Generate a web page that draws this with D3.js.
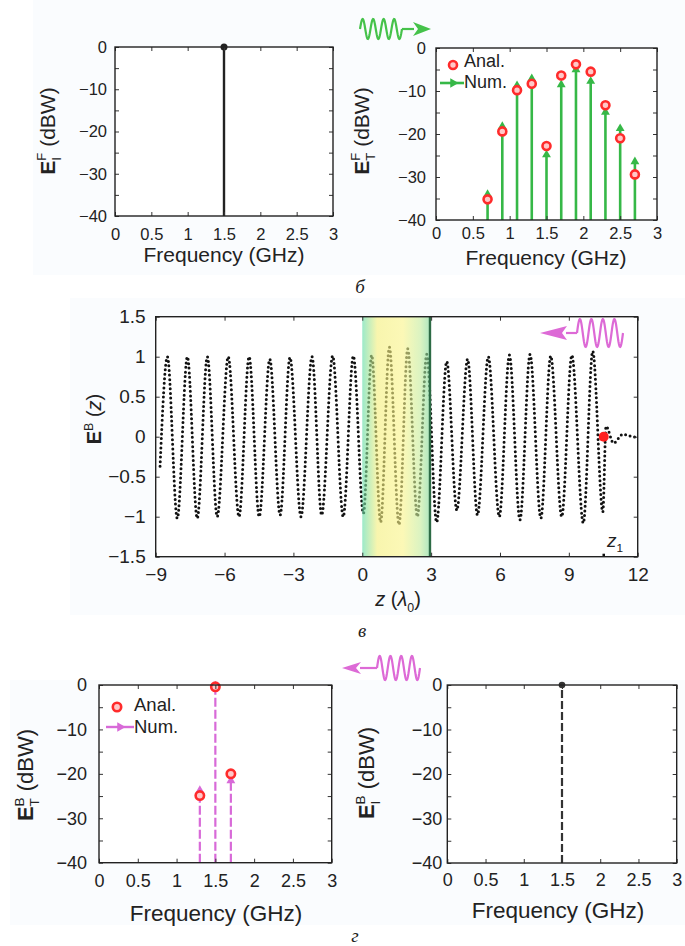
<!DOCTYPE html>
<html>
<head>
<meta charset="utf-8">
<script src="https://cdn.jsdelivr.net/npm/d3@7"></script>
<style>
body { margin: 0; background: #fff; }
svg { display: block; font-family: "Liberation Sans", Arial, sans-serif; }
svg text { white-space: pre; }
.axis path { display: none; }
.axis line { stroke: #333; stroke-width: 1; }
.axis text { fill: #222; }
</style>
</head>
<body>
<svg id="chart" width="685" height="946"></svg>
<script>
// ---- data ----
const freqTicks = [0, 0.5, 1, 1.5, 2, 2.5, 3];
const dbTicks = [0, -5, -10, -15, -20, -25, -30, -35, -40];

// incident forward spectrum
const incFwdFreq = [1.5];
const incFwdLevel = [0];

// transmitted forward spectrum
const trFreq = [0.7, 0.9, 1.1, 1.3, 1.5, 1.7, 1.9, 2.1, 2.3, 2.5, 2.7];
const trAnal = [-35.2, -19.4, -9.8, -8.3, -22.8, -6.4, -3.8, -5.5, -13.3, -21, -29.4];
const trNum = [-33.8, -18, -8.5, -6.9, -24.6, -8.3, -4.8, -7.5, -14.7, -18.5, -26.2];

// backward field along z (extrema)
const fieldZ = [-8.81, -8.49, -8.06, -7.62, -7.19, -6.75, -6.32, -5.84, -5.37, -4.93, -4.49,
  -4.03, -3.58, -3.15, -2.67, -2.19, -1.77, -1.29, -0.83, -0.39, 0.05, 0.41, 0.80, 1.18,
  1.60, 1.98, 2.40, 2.81, 3.24, 3.68, 4.12, 4.59, 5.02, 5.49, 5.97, 6.41, 6.87, 7.31, 7.78,
  8.21, 8.69, 9.13, 9.63, 10.04, 10.48, 10.62, 10.95, 11.35, 11.65, 12.0];
const fieldE = [-0.37, 1.0, -1.02, 1.0, -1.02, 1.0, -1.0, 1.0, -1.0, 1.0, -1.0,
  0.97, -0.98, 0.99, -1.0, 1.0, -0.98, 1.01, -1.0, 1.01, -0.96, 1.02, -1.07, 1.12,
  -1.10, 1.10, -1.0, 1.03, -1.07, 0.94, -0.92, 0.97, -0.98, 1.0, -1.0, 1.02, -1.04, 1.03, -1.02,
  1.01, -1.0, 1.02, -1.08, 1.07, -0.94, 0.13, -0.08, 0.03, 0.01, -0.01];
const slabZ = [0, 2.95];
const z1 = [10.52];
const zTicks = [-9, -6, -3, 0, 3, 6, 9, 12];
const eTicks = [1.5, 1, 0.5, 0, -0.5, -1, -1.5];

// reflected backward spectrum
const rfFreq = [1.3, 1.5, 1.7];
const rfAnal = [-24.9, -0.4, -20];
const rfNum = [-23.5, 0, -21.3];

// incident backward spectrum
const incBwdFreq = [1.5];
const incBwdLevel = [0];

const green = "#36b847", red = "#ff2b2b", pink = "#d86ad8";

const svg = d3.select("#chart");
const fmt = d3.format("~g");

// faint figure backgrounds
svg.append("rect").attr("x", 33).attr("y", 0).attr("width", 652).attr("height", 275).attr("fill", "#fafcfe");
svg.append("rect").attr("x", 70).attr("y", 298).attr("width", 615).attr("height", 317).attr("fill", "#fafcfe");
svg.append("rect").attr("x", 10).attr("y", 680).attr("width", 675).attr("height", 245).attr("fill", "#fafcfe");

function panel(box, xDom, yDom) {
    const x = d3.scaleLinear().domain(xDom).range([box.left, box.right]);
    const y = d3.scaleLinear().domain(yDom).range([box.bottom, box.top]);
    svg.append("rect")
        .attr("x", box.left).attr("y", box.top)
        .attr("width", box.right - box.left).attr("height", box.bottom - box.top)
        .attr("fill", "#fff");
    return { x, y, box, g: svg.append("g") };
}

function frame(p, o) {
    const b = p.box;
    const labX = o.xLab || (d => fmt(d));
    const labY = o.yLab || (d => fmt(d));
    const bottom = svg.append("g").attr("class", "axis")
        .attr("transform", `translate(0,${b.bottom})`)
        .call(d3.axisBottom(p.x).tickValues(o.xTicks).tickSize(-4).tickPadding(o.xPad).tickFormat(labX));
    bottom.selectAll("text").attr("font-size", o.fs);
    svg.append("g").attr("class", "axis")
        .attr("transform", `translate(0,${b.top})`)
        .call(d3.axisTop(p.x).tickValues(o.xTicks).tickSize(-4).tickFormat(""));
    const left = svg.append("g").attr("class", "axis")
        .attr("transform", `translate(${b.left},0)`)
        .call(d3.axisLeft(p.y).tickValues(o.yTicks).tickSize(-4).tickPadding(o.yPad).tickFormat(labY));
    left.selectAll("text").attr("font-size", o.fs);
    svg.append("g").attr("class", "axis")
        .attr("transform", `translate(${b.right},0)`)
        .call(d3.axisRight(p.y).tickValues(o.yTicks).tickSize(-4).tickFormat(""));
    svg.append("rect")
        .attr("x", b.left).attr("y", b.top)
        .attr("width", b.right - b.left).attr("height", b.bottom - b.top)
        .attr("fill", "none").attr("stroke", "#222").attr("stroke-width", 1.4);
}

// text made of pieces (bold / italic / sup / sub), centred on 0
function rich(parent, pieces, size) {
    const g = parent.append("g");
    let cx = 0, prevX = 0;
    pieces.forEach(pc => {
        const fs = pc.s ? size * 0.62 : size;
        const dy = pc.s === "sup" ? -size * 0.42 : pc.s === "sub" ? size * 0.28 : 0;
        const x0 = pc.stack ? prevX : cx;
        const t = g.append("text").attr("x", x0).attr("y", dy)
            .attr("font-size", fs).attr("fill", "#222")
            .attr("font-weight", pc.b ? "bold" : "normal")
            .attr("font-style", pc.i ? "italic" : "normal")
            .text(pc.t);
        const w = t.node().getComputedTextLength();
        prevX = x0;
        cx = Math.max(cx, x0 + w);
    });
    g.attr("transform", `translate(${-cx / 2},0)`);
    return g;
}

function yTitle(bx, cy, pieces, size) {
    const g = svg.append("g").attr("transform", `translate(${bx},${cy}) rotate(-90)`);
    rich(g, pieces, size);
}

function xTitle(cx, by, text, size) {
    svg.append("text").attr("x", cx).attr("y", by).attr("text-anchor", "middle")
        .attr("font-size", size).attr("fill", "#222").text(text);
}

const dbLab = d => (d % 10 === 0 ? fmt(d) : "");

// ---- panel 1: incident forward ----
const p1 = panel({ left: 115, right: 333, top: 47, bottom: 216 }, [0, 3], [-40, 0]);
p1.g.selectAll("line.stem").data(incFwdFreq).join("line")
    .attr("x1", d => p1.x(d)).attr("x2", d => p1.x(d))
    .attr("y1", p1.y(-40)).attr("y2", (d, i) => p1.y(incFwdLevel[i]))
    .attr("stroke", "#222").attr("stroke-width", 2.4);
p1.g.selectAll("circle").data(incFwdFreq).join("circle")
    .attr("cx", d => p1.x(d)).attr("cy", (d, i) => p1.y(incFwdLevel[i]))
    .attr("r", 3.5).attr("fill", "#222");
frame(p1, { xTicks: freqTicks, yTicks: dbTicks, yLab: dbLab, fs: 16.5, xPad: 12, yPad: 8 });
xTitle(224, 262, "Frequency (GHz)", 21);
yTitle(55, 131, [{ t: "E", b: true }, { t: "F", s: "sup" }, { t: "I", s: "sub", stack: true }, { t: " (dBW)" }], 21);

// ---- panel 2: transmitted forward ----
const p2 = panel({ left: 436, right: 657, top: 48, bottom: 220 }, [0, 3], [-40, 0]);
p2.g.selectAll("line").data(trFreq).join("line")
    .attr("x1", d => p2.x(d)).attr("x2", d => p2.x(d))
    .attr("y1", p2.y(-40)).attr("y2", (d, i) => p2.y(trNum[i]))
    .attr("stroke", green).attr("stroke-width", 2.6);
p2.g.selectAll("path.num").data(trFreq).join("path").attr("class", "num")
    .attr("d", d3.symbol(d3.symbolTriangle, 34))
    .attr("transform", (d, i) => `translate(${p2.x(d)},${p2.y(trNum[i]) + 1})`)
    .attr("fill", green);
p2.g.selectAll("circle").data(trFreq).join("circle")
    .attr("cx", d => p2.x(d)).attr("cy", (d, i) => p2.y(trAnal[i]))
    .attr("r", 4).attr("fill", "#ffc8c8").attr("stroke", red).attr("stroke-width", 2.6);
frame(p2, { xTicks: freqTicks, yTicks: dbTicks, yLab: dbLab, fs: 16.5, xPad: 7, yPad: 10 });
xTitle(546, 265, "Frequency (GHz)", 21);
yTitle(369, 131, [{ t: "E", b: true }, { t: "F", s: "sup" }, { t: "T", s: "sub", stack: true }, { t: " (dBW)" }], 21);
// legend
svg.append("circle").attr("cx", 453).attr("cy", 65).attr("r", 4)
    .attr("fill", "#ffc8c8").attr("stroke", red).attr("stroke-width", 2.6);
svg.append("text").attr("x", 464).attr("y", 67).attr("font-size", 18).attr("fill", "#222").text("Anal.");
svg.append("line").attr("x1", 440).attr("x2", 464).attr("y1", 83).attr("y2", 83)
    .attr("stroke", green).attr("stroke-width", 2.6);
svg.append("path").attr("d", d3.symbol(d3.symbolTriangle, 40))
    .attr("transform", "translate(453,83) rotate(90)").attr("fill", green);
svg.append("text").attr("x", 464).attr("y", 88).attr("font-size", 18).attr("fill", "#222").text("Num.");

// ---- panel 3: backward field along z ----
const p3 = panel({ left: 155.7, right: 637.7, top: 316.7, bottom: 556.7 }, [-9, 12], [-1.5, 1.5]);
const defs = svg.append("defs");
const grad = defs.append("linearGradient").attr("id", "slab").attr("x1", 0).attr("x2", 1).attr("y1", 0).attr("y2", 0);
[[0, "#5fdca8"], [0.22, "#f4ef7c"], [0.6, "#faf48a"], [0.86, "#c4ec9c"], [1, "#7fd89a"]].forEach(s => {
    grad.append("stop").attr("offset", s[0]).attr("stop-color", s[1]);
});
const fieldPts = fieldZ.map((z, i) => [z, fieldE[i]]);
const waveLine = d3.line().x(d => p3.x(d[0])).y(d => p3.y(d[1])).curve(d3.curveMonotoneX);
p3.g.append("path").datum(fieldPts).attr("d", waveLine)
    .attr("fill", "none").attr("stroke", "#111").attr("stroke-width", 3)
    .attr("stroke-linecap", "round").attr("stroke-dasharray", "0 4.6");
p3.g.append("rect")
    .attr("x", p3.x(slabZ[0])).attr("y", p3.box.top)
    .attr("width", p3.x(slabZ[1]) - p3.x(slabZ[0])).attr("height", p3.box.bottom - p3.box.top)
    .attr("fill", "url(#slab)").attr("opacity", 0.62);
p3.g.append("line")
    .attr("x1", p3.x(slabZ[1])).attr("x2", p3.x(slabZ[1]))
    .attr("y1", p3.box.top).attr("y2", p3.box.bottom)
    .attr("stroke", "#2d6b45").attr("stroke-width", 2.4);
p3.g.selectAll("circle").data(z1).join("circle")
    .attr("cx", d => p3.x(d)).attr("cy", p3.y(0)).attr("r", 5).attr("fill", "#ff2020");
p3.g.selectAll("line.z1").data(z1).join("line").attr("class", "z1")
    .attr("x1", d => p3.x(d)).attr("x2", d => p3.x(d))
    .attr("y1", p3.box.bottom - 3).attr("y2", p3.box.bottom)
    .attr("stroke", "#111").attr("stroke-width", 2.5);
frame(p3, { xTicks: zTicks, yTicks: eTicks, fs: 19, xPad: 11, yPad: 10 });
const z1Lab = svg.append("g").attr("transform", "translate(615,547)");
rich(z1Lab, [{ t: "z", i: true }, { t: "1", s: "sub" }], 19);
const zLab = svg.append("g").attr("transform", "translate(398,606)");
rich(zLab, [{ t: "z", i: true }, { t: " (" }, { t: "λ", i: true }, { t: "0", s: "sub" }, { t: ")" }], 20);
yTitle(101, 419, [{ t: "E", b: true }, { t: "B", s: "sup" }, { t: " (" }, { t: "z", i: true }, { t: ")" }], 20);

// ---- panel 4: reflected backward ----
const p4 = panel({ left: 99, right: 331.7, top: 685, bottom: 862.7 }, [0, 3], [-40, 0]);
p4.g.selectAll("line").data(rfFreq).join("line")
    .attr("x1", d => p4.x(d)).attr("x2", d => p4.x(d))
    .attr("y1", p4.y(-40)).attr("y2", (d, i) => p4.y(rfNum[i]))
    .attr("stroke", pink).attr("stroke-width", 2.2).attr("stroke-dasharray", "9 3");
p4.g.selectAll("path.num").data(rfFreq).join("path").attr("class", "num")
    .attr("d", d3.symbol(d3.symbolTriangle, 34))
    .attr("transform", (d, i) => `translate(${p4.x(d)},${p4.y(rfNum[i]) + 1})`)
    .attr("fill", pink);
p4.g.selectAll("circle").data(rfFreq).join("circle")
    .attr("cx", d => p4.x(d)).attr("cy", (d, i) => p4.y(rfAnal[i]))
    .attr("r", 4.2).attr("fill", "#ffc8c8").attr("stroke", red).attr("stroke-width", 2.6);
frame(p4, { xTicks: freqTicks, yTicks: dbTicks, yLab: dbLab, fs: 18, xPad: 12, yPad: 12 });
xTitle(216, 921, "Frequency (GHz)", 22.5);
yTitle(33, 775, [{ t: "E", b: true }, { t: "B", s: "sup" }, { t: "T", s: "sub", stack: true }, { t: " (dBW)" }], 22);
svg.append("circle").attr("cx", 117).attr("cy", 707).attr("r", 4.2)
    .attr("fill", "#ffc8c8").attr("stroke", red).attr("stroke-width", 2.6);
svg.append("text").attr("x", 134).attr("y", 711).attr("font-size", 18.5).attr("fill", "#222").text("Anal.");
svg.append("line").attr("x1", 106).attr("x2", 134).attr("y1", 727).attr("y2", 727)
    .attr("stroke", pink).attr("stroke-width", 2.4);
svg.append("path").attr("d", d3.symbol(d3.symbolTriangle, 40))
    .attr("transform", "translate(120,727) rotate(90)").attr("fill", pink);
svg.append("text").attr("x", 134).attr("y", 733).attr("font-size", 18.5).attr("fill", "#222").text("Num.");

// ---- panel 5: incident backward ----
const p5 = panel({ left: 447.3, right: 676.7, top: 685, bottom: 863 }, [0, 3], [-40, 0]);
p5.g.selectAll("line").data(incBwdFreq).join("line")
    .attr("x1", d => p5.x(d)).attr("x2", d => p5.x(d))
    .attr("y1", p5.y(-40)).attr("y2", (d, i) => p5.y(incBwdLevel[i]))
    .attr("stroke", "#333").attr("stroke-width", 2.2).attr("stroke-dasharray", "8 3");
p5.g.selectAll("circle").data(incBwdFreq).join("circle")
    .attr("cx", d => p5.x(d)).attr("cy", (d, i) => p5.y(incBwdLevel[i]))
    .attr("r", 3.3).attr("fill", "#333");
frame(p5, { xTicks: freqTicks, yTicks: dbTicks, yLab: dbLab, fs: 18, xPad: 10, yPad: 5 });
xTitle(558, 918, "Frequency (GHz)", 22.5);
yTitle(374, 773, [{ t: "E", b: true }, { t: "B", s: "sup" }, { t: "I", s: "sub", stack: true }, { t: " (dBW)" }], 22);

// ---- wave icons ----
function waveIcon(x0, x1, cy, amp, color, tipX, headBack, headH) {
    const ph = d3.range(0, 1.0001, 0.01);
    const sx = d3.scaleLinear().domain([0, 1]).range([x0, x1]);
    const line = d3.line().x(t => sx(t)).y(t => cy - amp * Math.sin(t * 4 * 2 * Math.PI));
    svg.append("path").attr("d", line(ph)).attr("fill", "none")
        .attr("stroke", color).attr("stroke-width", 2.2);
    const from = tipX > x1 ? x1 : x0;
    svg.append("line").attr("x1", from).attr("x2", headBack).attr("y1", cy).attr("y2", cy)
        .attr("stroke", color).attr("stroke-width", 2.2);
    const dir = tipX > headBack ? 1 : -1;
    const notch = headBack + dir * 4;
    svg.append("path")
        .attr("d", `M${tipX},${cy} L${headBack - dir * 1},${cy - headH} L${notch},${cy} L${headBack - dir * 1},${cy + headH} Z`)
        .attr("fill", color);
}
waveIcon(360, 402, 29, 10, "#45c24a", 431, 414, 7);
waveIcon(577, 623, 333, 14, "#dd6ad6", 540, 566, 7);
waveIcon(377, 420, 668, 12, "#dd6ad6", 342, 360, 6);

// ---- panel letters ----
[["б", 360, 293], ["в", 362, 637], ["г", 355, 942]].forEach(l => {
    svg.append("text").attr("x", l[1]).attr("y", l[2]).attr("text-anchor", "middle")
        .attr("font-family", "'Liberation Serif', 'DejaVu Serif', serif")
        .attr("font-style", "italic").attr("font-size", 19).attr("fill", "#222").text(l[0]);
});
</script>
</body>
</html>
